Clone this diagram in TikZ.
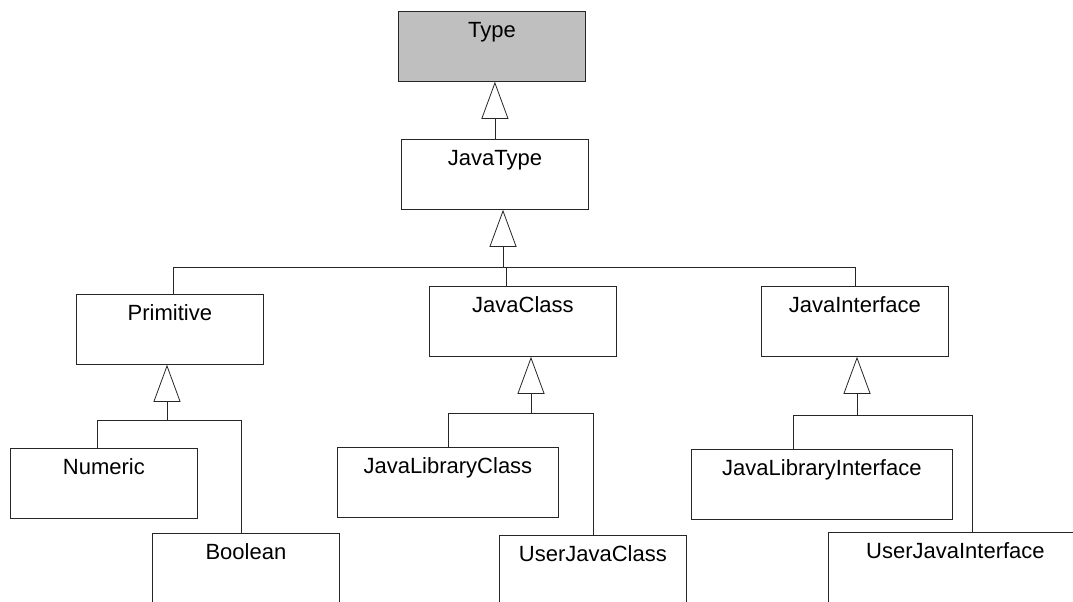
\documentclass[tikz,border=0pt]{standalone}
\usepackage{fontspec}
\setmainfont{Liberation Sans}
\usetikzlibrary{arrows.meta}

\begin{document}
\begin{tikzpicture}[
  x=1pt, y=-1pt,
  line width=0.8pt,
  cls/.style={draw=black!85, anchor=north west, inner sep=0pt, minimum width=#1,
              text height=26pt, text depth=44pt, font=\fontsize{22}{26}\selectfont},
  cls/.default=187pt,
  cut/.style={text depth=90pt},
  gen/.style={draw=black!85, -{Triangle[open, length=37pt, width=27pt]}},
  link/.style={draw=black!85}
]
\useasboundingbox (0,0) rectangle (1073,602);
\clip (0,0) rectangle (1073,602);

\node[cls, fill=black!25] (Type) at (398,11) {Type};
\node[cls] (JavaType) at (401,139) {JavaType};
\node[cls] (Primitive) at (76,294) {Primitive};
\node[cls] (JavaClass) at (429,286) {JavaClass};
\node[cls] (JavaInterface) at (761,286) {JavaInterface};
\node[cls] (Numeric) at (10,448) {Numeric};
\node[cls, cut] (Boolean) at (152,533) {Boolean};
\node[cls=221pt] (JavaLibraryClass) at (337,447) {JavaLibraryClass};
\node[cls, cut] (UserJavaClass) at (499,535) {UserJavaClass};
\node[cls=261pt] (JavaLibraryInterface) at (691,449) {JavaLibraryInterface};
\node[cls=254pt, cut] (UserJavaInterface) at (828,532) {UserJavaInterface};

% Type
\draw[gen] (JavaType.north) -- (JavaType.north |- Type.south);

% JavaType
\coordinate (b1) at (503,267);
\draw[gen] (b1) -- (b1 |- JavaType.south);
\draw[link] ([xshift=3.5pt]Primitive.north) |- (JavaInterface.north |- b1) -- (JavaInterface.north);
\draw[link] ([xshift=-17pt]JavaClass.north) -- ([xshift=-17pt]JavaClass.north |- b1);

% Primitive
\coordinate (b2) at (167,420);
\draw[gen] (b2) -- (b2 |- Primitive.south);
\draw[link] ([xshift=-6.5pt]Numeric.north) |- ([xshift=-4.5pt]Boolean.north |- b2) -- ([xshift=-4.5pt]Boolean.north);

% JavaClass
\coordinate (b3) at (531,413);
\draw[gen] (b3) -- (b3 |- JavaClass.south);
\draw[link] (JavaLibraryClass.north) |- (UserJavaClass.north |- b3) -- (UserJavaClass.north);

% JavaInterface
\coordinate (b4) at (857,415);
\draw[gen] (b4) -- (b4 |- JavaInterface.south);
\draw[link] ([xshift=-28.5pt]JavaLibraryInterface.north) |- ([xshift=17pt]UserJavaInterface.north |- b4) -- ([xshift=17pt]UserJavaInterface.north);
\end{tikzpicture}
\end{document}
